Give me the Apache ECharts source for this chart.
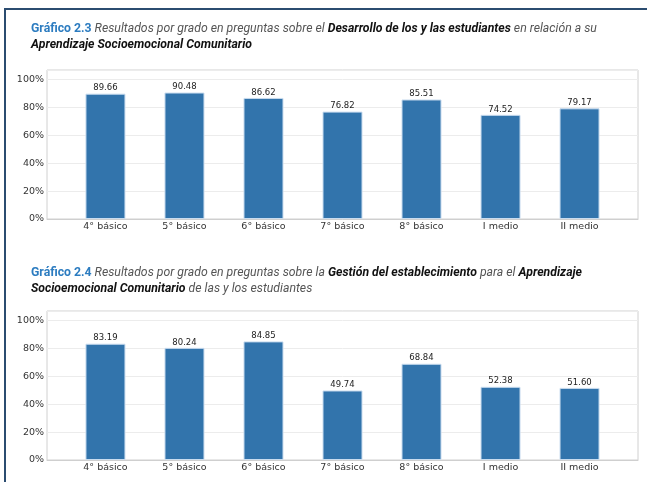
<!DOCTYPE html>
<html>
<head>
<meta charset="utf-8">
<script src="https://cdn.jsdelivr.net/npm/echarts@6/dist/echarts.min.js"></script>
<style>
  html, body { margin: 0; padding: 0; background: #fff; }
  #chart { width: 647px; height: 482px; }
</style>
</head>
<body>
<div id="chart"></div>
<script>
// categorías del eje x
const grados = ['4° básico', '5° básico', '6° básico', '7° básico', '8° básico', 'I medio', 'II medio']
// Gráfico 2.3: Desarrollo de los y las estudiantes
const desarrollo = [89.66, 90.48, 86.62, 76.82, 85.51, 74.52, 79.17]
// Gráfico 2.4: Gestión del establecimiento
const gestion = [83.19, 80.24, 84.85, 49.74, 68.84, 52.38, 51.60]
const yTicks = [0, 20, 40, 60, 80, 100]

const chart = echarts.init(document.getElementById('chart'))

const tickFont = 'DejaVu Sans'
const barColor = '#3274ac'

function titleRich() {
  const base = { fontFamily: 'Roboto', fontSize: 12.25, lineHeight: 16 }
  return {
    blue: { ...base, color: '#2c7cc0', fontWeight: 'bold' },
    it: { ...base, color: '#555', fontStyle: 'italic', fontWeight: 'normal' },
    bi: { ...base, color: '#111', fontStyle: 'italic', fontWeight: 'bold' }
  }
}

function xAxis(gridIndex) {
  return {
    type: 'value',
    gridIndex,
    min: -0.74,
    max: 6.74,
    splitLine: { show: false },
    axisTick: { show: false },
    axisLine: { show: true, onZero: false, lineStyle: { color: '#cfcfcf' } },
    axisLabel: {
      customValues: grados.map((_, i) => i),
      formatter: (v) => grados[Math.round(v)],
      fontFamily: tickFont,
      fontSize: 9.5,
      color: '#333',
      margin: 3
    }
  }
}

function yAxis(gridIndex) {
  return {
    type: 'value',
    gridIndex,
    min: 0,
    max: 106.6,
    axisLabel: {
      customValues: yTicks,
      formatter: '{value}%',
      fontFamily: tickFont,
      fontSize: 9.5,
      color: '#333',
      margin: 3
    },
    axisTick: { show: false },
    axisLine: { show: false },
    splitLine: { show: true, lineStyle: { color: '#ececec', width: 1 } }
  }
}

function barSeries(values, idx) {
  return {
    type: 'bar',
    xAxisIndex: idx,
    yAxisIndex: idx,
    data: values.map((v, i) => [i, v]),
    barWidth: 40,
    itemStyle: { color: barColor, borderColor: '#c9dcef', borderWidth: 1 },
    label: {
      show: true,
      position: 'top',
      distance: 1,
      fontFamily: tickFont,
      fontSize: 8.5,
      color: '#222',
      formatter: (p) => p.value[1].toFixed(2)
    }
  }
}

chart.setOption({
  animation: false,
  title: [
    {
      left: 26, top: 16,
      text: '{blue|Gráfico 2.3}{it| Resultados por grado en preguntas sobre el }{bi|Desarrollo de los y las estudiantes}{it| en relación a su}\n{bi|Aprendizaje Socioemocional Comunitario}',
      textStyle: { fontWeight: 'normal', rich: titleRich() }
    },
    {
      left: 26, top: 260,
      text: '{blue|Gráfico 2.4}{it| Resultados por grado en preguntas sobre la }{bi|Gestión del establecimiento}{it| para el }{bi|Aprendizaje}\n{bi|Socioemocional Comunitario}{it| de las y los estudiantes}',
      textStyle: { fontWeight: 'normal', rich: titleRich() }
    }
  ],
  graphic: [
    {
      type: 'rect',
      shape: { x: 5, y: 9, width: 700, height: 600 },
      style: { fill: 'none', stroke: '#2b4c70', lineWidth: 2 }
    }
  ],
  grid: [
    { left: 47, right: 9, top: 70, height: 149, show: true, borderColor: '#d0d0d0', borderWidth: 1 },
    { left: 47, right: 9, top: 311, height: 149, show: true, borderColor: '#d0d0d0', borderWidth: 1 }
  ],
  xAxis: [xAxis(0), xAxis(1)],
  yAxis: [yAxis(0), yAxis(1)],
  series: [barSeries(desarrollo, 0), barSeries(gestion, 1)]
})
</script>
</body>
</html>
